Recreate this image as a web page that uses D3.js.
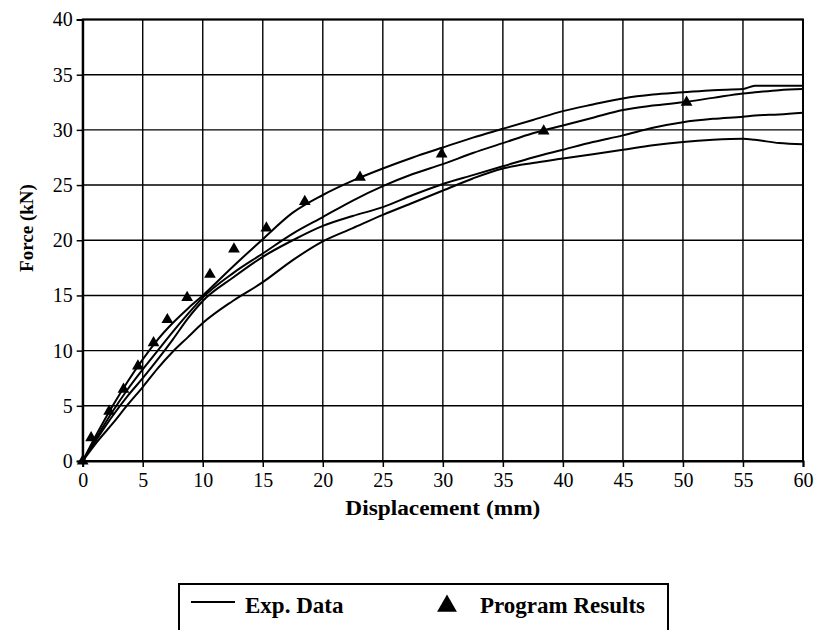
<!DOCTYPE html>
<html>
<head>
<meta charset="utf-8">
<script src="https://cdn.jsdelivr.net/npm/d3@7"></script>
<style>
  body { margin: 0; background: #fff; }
  svg text { font-family: "Liberation Serif", "DejaVu Serif", "Times New Roman", serif; fill: #000; }
</style>
</head>
<body>
<div id="chart"></div>
<script>
// displacement (mm) where the experimental curves were read
const expDisp = [0, 1.25, 2.5, 3.75, 5, 6.25, 7.5, 8.75, 10, 12.5, 15, 17.5, 20, 22.5, 25, 27.5, 30, 32.5, 35, 37.5, 40, 42.5, 45, 47.5, 50, 52.5, 55, 56, 58, 60];
// four experimental force curves (kN)
const exp1 = [0, 2.6, 5.0, 7.2, 9.2, 11.0, 12.5, 13.8, 15.0, 17.6, 20.1, 22.5, 24.1, 25.4, 26.5, 27.5, 28.4, 29.3, 30.1, 30.9, 31.7, 32.3, 32.85, 33.2, 33.4, 33.6, 33.7, 34.0, 34.0, 34.0];
const exp2 = [0, 2.3, 4.5, 6.5, 8.3, 10.0, 11.7, 13.3, 14.8, 17.0, 18.8, 20.6, 22.1, 23.6, 24.9, 26.0, 26.9, 27.9, 28.8, 29.7, 30.4, 31.1, 31.8, 32.2, 32.5, 32.9, 33.3, 33.4, 33.6, 33.7];
const exp3 = [0, 2.1, 4.1, 5.9, 7.5, 9.2, 11.0, 12.9, 14.5, 16.6, 18.5, 20.0, 21.3, 22.2, 23.0, 24.1, 25.1, 25.9, 26.7, 27.5, 28.2, 28.9, 29.5, 30.2, 30.7, 31.0, 31.2, 31.3, 31.4, 31.55];
const exp4 = [0, 1.8, 3.4, 5.1, 6.7, 8.4, 9.9, 11.2, 12.5, 14.5, 16.2, 18.2, 19.9, 21.1, 22.3, 23.4, 24.5, 25.6, 26.5, 27.0, 27.4, 27.8, 28.2, 28.6, 28.9, 29.1, 29.2, 29.1, 28.8, 28.7];

// program results (triangles)
const progDisp  = [0, 0.7, 2.2, 3.4, 4.6, 5.9, 7.05, 8.7, 10.6, 12.6, 15.3, 18.5, 23.1, 29.9, 38.4, 50.3];
const progForce = [0, 2.1, 4.5, 6.5, 8.6, 10.7, 12.8, 14.8, 16.9, 19.2, 21.1, 23.5, 25.7, 27.8, 29.9, 32.5];

const xTicks = [0, 5, 10, 15, 20, 25, 30, 35, 40, 45, 50, 55, 60];
const yTicks = [0, 5, 10, 15, 20, 25, 30, 35, 40];

const serif = "'Liberation Serif', 'DejaVu Serif', serif";
const w = 816, h = 630;
const svg = d3.select("#chart").append("svg").attr("width", w).attr("height", h);

const x = d3.scaleLinear().domain([0, 60]).range([82.7, 803]);
const y = d3.scaleLinear().domain([0, 40]).range([461, 19.5]);

// grid
svg.append("g").selectAll("line").data(xTicks).join("line")
  .attr("x1", d => x(d)).attr("x2", d => x(d))
  .attr("y1", y(0)).attr("y2", y(40))
  .attr("stroke", "#000").attr("stroke-width", 1.4);
svg.append("g").selectAll("line").data(yTicks).join("line")
  .attr("x1", x(0)).attr("x2", x(60))
  .attr("y1", d => y(d)).attr("y2", d => y(d))
  .attr("stroke", "#000").attr("stroke-width", 1.4);

// frame
svg.append("rect").attr("x", x(0)).attr("y", y(40))
  .attr("width", x(60) - x(0)).attr("height", y(0) - y(40))
  .attr("fill", "none").attr("stroke", "#000").attr("stroke-width", 2);

// axes
const xAxis = svg.append("g").attr("transform", `translate(0,${y(0)})`)
  .call(d3.axisBottom(x).tickValues(xTicks).tickSize(6).tickPadding(6).tickFormat(d3.format("d")));
const yAxis = svg.append("g").attr("transform", `translate(${x(0)},0)`)
  .call(d3.axisLeft(y).tickValues(yTicks).tickSize(6).tickPadding(4).tickFormat(d3.format("d")));
[xAxis, yAxis].forEach(a => {
  a.attr("font-family", serif).attr("font-size", 20);
  a.select(".domain").attr("stroke", "#000").attr("stroke-width", 2);
  a.selectAll(".tick line").attr("stroke", "#000").attr("stroke-width", 1.5);
  a.selectAll(".tick text").attr("fill", "#000").style("font-family", serif).style("font-size", "20px");
});

// experimental curves
const line = d3.line()
  .x((d, i) => x(expDisp[i]))
  .y(d => y(d))
  .curve(d3.curveMonotoneX);
[exp1, exp2, exp3, exp4].forEach(s => {
  svg.append("path").attr("d", line(s))
    .attr("fill", "none").attr("stroke", "#000").attr("stroke-width", 2);
});

// program results
const tri = d3.symbol().type(d3.symbolTriangle);
svg.append("g").selectAll("path").data(progDisp).join("path")
  .attr("d", tri.size(60)())
  .attr("transform", (d, i) => `translate(${x(d)},${y(progForce[i])})`)
  .attr("fill", "#000");

// axis titles
svg.append("text").attr("x", (x(0) + x(60)) / 2).attr("y", 515)
  .attr("text-anchor", "middle").style("font-family", serif).style("font-size", "20px").attr("font-weight", "bold")
  .attr("textLength", 195).attr("lengthAdjust", "spacingAndGlyphs")
  .text("Displacement (mm)");
svg.append("text").attr("transform", "translate(33,228) rotate(-90)")
  .attr("text-anchor", "middle").style("font-family", serif).style("font-size", "19px").attr("font-weight", "bold")
  .text("Force (kN)");

// legend
svg.append("rect").attr("x", 179).attr("y", 584).attr("width", 489).attr("height", 70)
  .attr("fill", "none").attr("stroke", "#000").attr("stroke-width", 2);
svg.append("line").attr("x1", 191).attr("x2", 235).attr("y1", 602).attr("y2", 602)
  .attr("stroke", "#000").attr("stroke-width", 2);
svg.append("text").attr("x", 245).attr("y", 612.5).style("font-family", serif).style("font-size", "23px").attr("font-weight", "bold")
  .text("Exp. Data");
svg.append("path").attr("d", d3.symbol().type(d3.symbolTriangle).size(170)())
  .attr("transform", "translate(447,606)").attr("fill", "#000");
svg.append("text").attr("x", 480).attr("y", 612.5).style("font-family", serif).style("font-size", "23px").attr("font-weight", "bold")
  .text("Program Results");
</script>
</body>
</html>
